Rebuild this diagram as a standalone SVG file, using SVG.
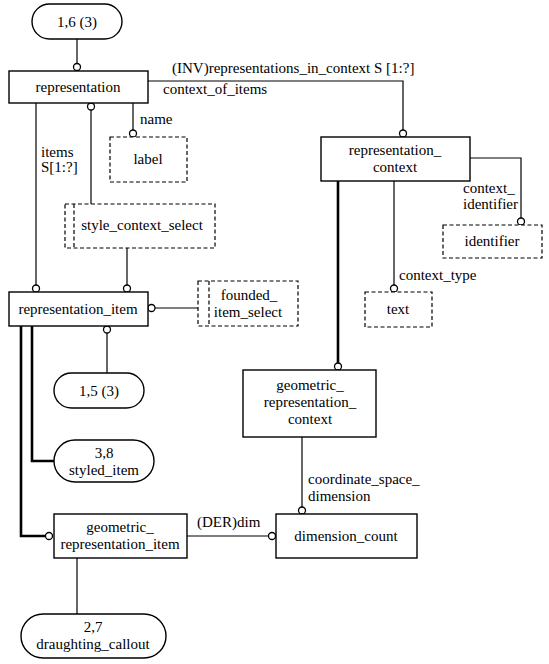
<svg xmlns="http://www.w3.org/2000/svg" width="549" height="664" viewBox="0 0 549 664">
<style>
text{font-family:"Liberation Serif","Times New Roman",serif;font-size:15px;fill:#000}
.c{text-anchor:middle}
.box{fill:#fff;stroke:#000;stroke-width:1.4}
.dash{fill:#fff;stroke:#000;stroke-width:1.2;stroke-dasharray:4 2.5}
.ln{fill:none;stroke:#000;stroke-width:1.2}
.thk{fill:none;stroke:#000;stroke-width:2.6}
.dot{fill:#fff;stroke:#000;stroke-width:1.3}
</style>
<rect width="549" height="664" fill="#fff"/>
<g id="connectors">
<path class="ln" d="M77,39V63.5"/><circle class="dot" cx="77" cy="67" r="3.5"/>
<path class="ln" d="M148,81H403V133.5"/><circle class="dot" cx="403" cy="133.5" r="3.5"/>
<text x="172" y="73">(INV)representations_in_context S [1:?]</text>
<text x="163" y="94">context_of_items</text>
<path class="ln" d="M133,103V130"/><circle class="dot" cx="133" cy="133.5" r="3.5"/>
<text x="140" y="124">name</text>
<circle class="dot" cx="91" cy="106.5" r="3.5"/><path class="ln" d="M91,110V204"/>
<path class="ln" d="M36,103V285"/><circle class="dot" cx="36" cy="288.5" r="3.5"/>
<text x="41" y="157">items</text><text x="41" y="172">S[1:?]</text>
<path class="ln" d="M127,248V285"/><circle class="dot" cx="127" cy="288.5" r="3.5"/>
<path class="ln" d="M470,158H521V218"/><circle class="dot" cx="521" cy="221.5" r="3.5"/>
<text x="463" y="193">context_</text><text x="463" y="209">identifier</text>
<path class="ln" d="M394,181V285"/><circle class="dot" cx="394" cy="288.5" r="3.5"/>
<text x="399" y="280">context_type</text>
<path class="thk" d="M338,181V363"/><circle class="dot" cx="338" cy="366.5" r="3.5"/>
<circle class="dot" cx="151.5" cy="308" r="3.5"/><path class="ln" d="M155,308H198"/>
<circle class="dot" cx="107" cy="329.5" r="3.5"/><path class="ln" d="M107,333V373"/>
<path class="thk" d="M32,326V461H54"/>
<path class="thk" d="M21,326V536H45.5"/><circle class="dot" cx="49" cy="536" r="3.5"/>
<path class="ln" d="M302,437V507"/><circle class="dot" cx="302" cy="510.5" r="3.5"/>
<text x="308" y="484">coordinate_space_</text><text x="308" y="501">dimension</text>
<path class="ln" d="M187,536H268.5"/><circle class="dot" cx="272" cy="536" r="3.5"/>
<text x="197" y="527">(DER)dim</text>
<path class="ln" d="M77,558V614"/>
</g>
<g id="n_1_6"><rect class="box" x="32" y="4" width="90" height="35" rx="17.5"/><text class="c" x="77" y="27">1,6 (3)</text></g>
<g id="representation"><rect class="box" x="9" y="71" width="139" height="32"/><text class="c" x="78" y="92">representation</text></g>
<g id="label"><rect class="dash" x="110" y="137" width="77" height="45"/><text class="c" x="148" y="164">label</text></g>
<g id="representation_context"><rect class="box" x="321" y="137" width="149" height="44"/><text class="c" x="395" y="155">representation_</text><text class="c" x="395" y="172">context</text></g>
<g id="style_context_select"><rect class="dash" x="65" y="204" width="150" height="44"/><path class="dash" d="M74,204V248"/><text class="c" x="142" y="230">style_context_select</text></g>
<g id="identifier"><rect class="dash" x="443" y="225" width="99" height="33"/><text class="c" x="492" y="246">identifier</text></g>
<g id="text_node"><rect class="dash" x="365" y="292" width="67" height="35"/><text class="c" x="398" y="314">text</text></g>
<g id="representation_item"><rect class="box" x="9" y="292" width="139" height="34"/><text class="c" x="78" y="314">representation_item</text></g>
<g id="founded_item_select"><rect class="dash" x="198" y="281" width="100" height="45"/><path class="dash" d="M209,281V326"/><text class="c" x="249" y="300">founded_</text><text class="c" x="248" y="317">item_select</text></g>
<g id="n_1_5"><rect class="box" x="54" y="373" width="90" height="35" rx="17.5"/><text class="c" x="99" y="396">1,5 (3)</text></g>
<g id="geometric_representation_context"><rect class="box" x="243" y="370" width="133" height="67"/><text class="c" x="310" y="390">geometric_</text><text class="c" x="310" y="407">representation_</text><text class="c" x="310" y="424">context</text></g>
<g id="styled_item"><rect class="box" x="54" y="440" width="100" height="42" rx="21"/><text class="c" x="104" y="458">3,8</text><text class="c" x="104" y="475">styled_item</text></g>
<g id="geometric_representation_item"><rect class="box" x="54" y="514" width="133" height="44"/><text class="c" x="120" y="532">geometric_</text><text class="c" x="120" y="549">representation_item</text></g>
<g id="dimension_count"><rect class="box" x="276" y="514" width="141" height="44"/><text class="c" x="346" y="541">dimension_count</text></g>
<g id="draughting_callout"><rect class="box" x="21" y="614" width="145" height="44" rx="22"/><text class="c" x="93" y="632">2,7</text><text class="c" x="93" y="649">draughting_callout</text></g>
</svg>
